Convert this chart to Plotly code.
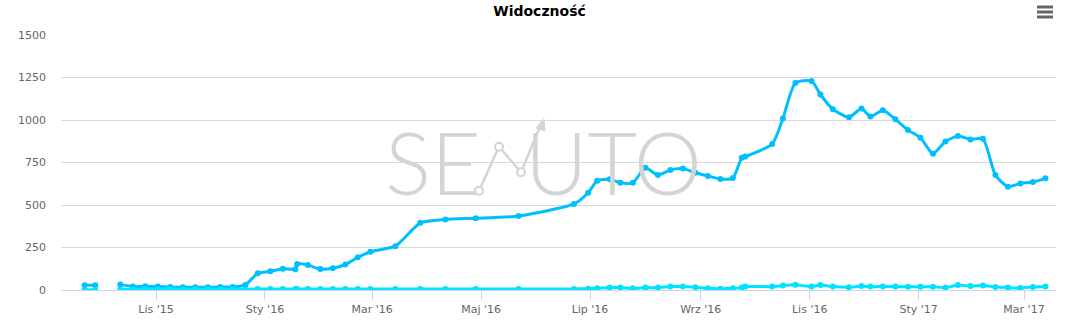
import plotly.graph_objects as go

# ---- data ----
dates = [
    "2015-09-22", "2015-09-28", "2015-10-05",
    "2015-10-12", "2015-10-19", "2015-10-26", "2015-11-02", "2015-11-09", "2015-11-16",
    "2015-11-23", "2015-11-30", "2015-12-07", "2015-12-14", "2015-12-21", "2015-12-28",
    "2016-01-04", "2016-01-11", "2016-01-18", "2016-01-19", "2016-01-25", "2016-02-01",
    "2016-02-08", "2016-02-15", "2016-02-22", "2016-02-29", "2016-03-14", "2016-03-28",
    "2016-04-11", "2016-04-28", "2016-05-22", "2016-06-22", "2016-06-30", "2016-07-05",
    "2016-07-12", "2016-07-18", "2016-07-25", "2016-08-01", "2016-08-08", "2016-08-15",
    "2016-08-22", "2016-08-29", "2016-09-05", "2016-09-12", "2016-09-19", "2016-09-24",
    "2016-09-26", "2016-10-11", "2016-10-17", "2016-10-24", "2016-11-02", "2016-11-07",
    "2016-11-14", "2016-11-23", "2016-11-30", "2016-12-05", "2016-12-12", "2016-12-19",
    "2016-12-26", "2017-01-02", "2017-01-09", "2017-01-16", "2017-01-23", "2017-01-30",
    "2017-02-06", "2017-02-13", "2017-02-20", "2017-02-27", "2017-03-06", "2017-03-13",
]
widocznosc = [
    28, 28, None,
    33, 20, 22, 20, 17, 16,
    16, 16, 17, 18, 30, 98,
    110, 125, 122, 153, 147, 123,
    128, 150, 192, 225, 258, 395,
    415, 422, 435, 506, 572, 643,
    651, 631, 631, 719, 676, 706,
    714, 690, 671, 653, 659, 778,
    785, 859, 1009, 1218, 1230, 1150,
    1063, 1016, 1067, 1020, 1057, 1004,
    941, 896, 802, 873, 906, 886,
    890, 676, 608, 627, 635, 657,
]
series2 = [
    1, 1, None,
    3, 4, 5, 5, 5, 5,
    5, 5, 5, 5, 5, 6,
    6, 6, 6, 6, 6, 6,
    6, 6, 6, 6, 6, 6,
    6, 6, 6, 6, 8, 10,
    14, 14, 10, 14, 14, 20,
    20, 16, 10, 8, 10, 14,
    20, 20, 27, 31, 20, 29,
    20, 16, 23, 20, 20, 20,
    19, 19, 19, 14, 29, 23,
    26, 18, 14, 12, 18, 21,
]
tick_dates = ["2015-11-01", "2016-01-01", "2016-03-01", "2016-05-01", "2016-07-01",
              "2016-09-01", "2016-11-01", "2017-01-01", "2017-03-01"]
tick_labels = ["Lis '15", "Sty '16", "Mar '16", "Maj '16", "Lip '16",
               "Wrz '16", "Lis '16", "Sty '17", "Mar '17"]
y_ticks = [0, 250, 500, 750, 1000, 1250, 1500]

MAIN = "#00BFFF"
SECOND = "#00E3FF"

fig = go.Figure()
fig.add_trace(go.Scatter(
    x=dates, y=widocznosc, mode="lines+markers", name="Widoczność",
    line=dict(color=MAIN, width=3, shape="spline", smoothing=0.6),
    marker=dict(color=MAIN, size=6), connectgaps=False, hoverinfo="x+y",
))
fig.add_trace(go.Scatter(
    x=dates, y=series2, mode="lines+markers", name="Seria 2",
    line=dict(color=SECOND, width=3, shape="spline", smoothing=0.6),
    marker=dict(color=SECOND, size=6), connectgaps=False, hoverinfo="x+y",
))

# ---- watermark ----
WM = "#d4d4d4"
def px_x(p):
    return (p - 61) / 995.0
def px_y(p):
    return (290 - p) / 255.0

annotations = [
    dict(text="SE", x=px_x(433), y=px_y(161), xref="paper", yref="paper",
         showarrow=False, font=dict(family="Lato", size=86, color=WM, weight=300)),
    dict(text="UTO", x=px_x(613), y=px_y(161), xref="paper", yref="paper",
         showarrow=False, font=dict(family="Lato", size=86, color=WM, weight=300)),
]
pts = [(479, 190.7), (499, 146.7), (521, 172.3), (542, 122)]
shapes = []
path = "M " + " L ".join(f"{px_x(a):.4f},{px_y(b):.4f}" for a, b in pts)
shapes.append(dict(type="path", path=path, xref="paper", yref="paper",
                   line=dict(color=WM, width=2.5), layer="below"))
# arrow head
ah = [(536, 128), (544, 119), (545, 131)]
shapes.append(dict(type="path",
                   path="M " + " L ".join(f"{px_x(a):.4f},{px_y(b):.4f}" for a, b in ah) + " Z",
                   xref="paper", yref="paper", fillcolor=WM, line=dict(color=WM, width=1),
                   layer="below"))
for a, b in pts[:3]:
    r = 4
    shapes.append(dict(type="circle", xref="paper", yref="paper",
                       x0=px_x(a - r), x1=px_x(a + r), y0=px_y(b + r), y1=px_y(b - r),
                       fillcolor="white", line=dict(color=WM, width=2), layer="below"))
# menu icon
for yy in (7, 12, 17):
    shapes.append(dict(type="line", xref="paper", yref="paper",
                       x0=px_x(1037), x1=px_x(1053), y0=px_y(yy), y1=px_y(yy),
                       line=dict(color="#666666", width=3)))

fig.update_layout(
    width=1079, height=322,
    margin=dict(l=61, r=23, t=35, b=32, autoexpand=False),
    paper_bgcolor="white", plot_bgcolor="white",
    showlegend=False,
    title=dict(text="<b>Widoczność</b>", x=0.5, xanchor="center", y=1 - 11 / 322,
               yanchor="middle", yref="container",
               font=dict(family="DejaVu Sans", size=14, color="#000000")),
    font=dict(family="DejaVu Sans", size=11, color="#666666"),
    annotations=annotations,
    shapes=shapes,
    xaxis=dict(
        type="date", range=["2015-09-08 19:00", "2017-03-18 22:00"],
        tickmode="array", tickvals=tick_dates, ticktext=tick_labels,
        showgrid=False, showline=True, linecolor="#ccd6eb", linewidth=1,
        ticks="outside", ticklen=9, tickcolor="#ccd6eb", tickwidth=1,
        tickfont=dict(family="DejaVu Sans", size=11, color="#666666"),
        zeroline=False, fixedrange=True, automargin=False,
    ),
    yaxis=dict(
        range=[0, 1500], tickmode="array", tickvals=y_ticks,
        showgrid=True, gridcolor="#d9d9d9", gridwidth=1,
        zeroline=False, showline=False, ticks="",
        ticklabelstandoff=14,
        tickfont=dict(family="DejaVu Sans", size=11, color="#666666"),
        fixedrange=True, automargin=False,
    ),
)

fig.write_html("out.html")
